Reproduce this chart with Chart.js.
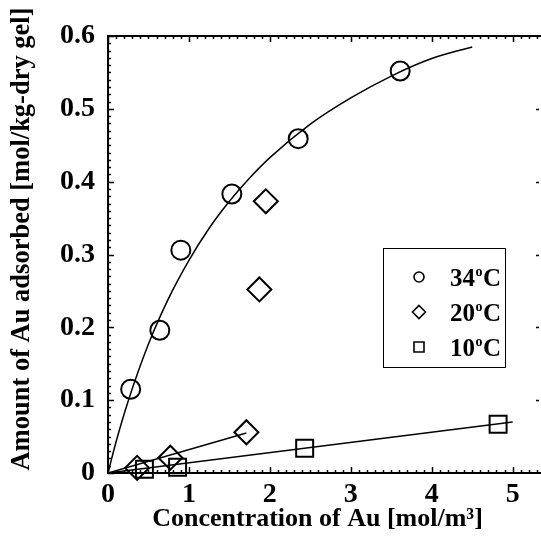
<!DOCTYPE html>
<html><head><meta charset="utf-8">
<script src="https://cdn.jsdelivr.net/npm/chart.js@4"></script>
<style>
html,body{margin:0;padding:0;overflow:hidden;background:#fff;width:541px;height:536px}
#c{display:block;width:541px;height:536px}
</style>
</head><body><canvas id="c" width="541" height="536"></canvas>
<script>
// ---- data ----
const seriesLabels = ['34°C', '20°C', '10°C'];
const x34 = [0.28, 0.64, 0.90, 1.53, 2.35, 3.61];
const y34 = [0.115, 0.196, 0.306, 0.383, 0.459, 0.552];
const x20 = [0.36, 0.77, 1.71, 1.87, 1.95];
const y20 = [0.007, 0.021, 0.056, 0.252, 0.373];
const x10 = [0.45, 0.86, 2.43, 4.82];
const y10 = [0.005, 0.008, 0.034, 0.067];
// fitted curves
const fit34X = [0, 0.1, 0.25, 0.5, 0.75, 1.0, 1.25, 1.5, 1.75, 2.0, 2.5, 3.0, 3.5, 4.0, 4.5];
const fit34Y = [0, 0.043, 0.099, 0.177, 0.240, 0.292, 0.336, 0.373, 0.405, 0.433, 0.479, 0.515, 0.545, 0.569, 0.585];
const fit20X = [0, 1.71];
const fit20Y = [0, 0.055];
const fit10X = [0, 5.0];
const fit10Y = [0, 0.070];
const xTicks = [0, 1, 2, 3, 4, 5];
const yTicks = [0, 0.1, 0.2, 0.3, 0.4, 0.5, 0.6];
const xTitle = 'Concentration of Au [mol/m³]';
const yTitle = 'Amount of Au adsorbed [mol/kg-dry gel]';

const FONT = "'Liberation Serif', 'Times New Roman', serif";
const pts = (xs, ys) => xs.map((x, i) => ({x: x, y: ys[i]}));

const frame = {
  id: 'frame',
  afterDraw(chart) {
    const ctx = chart.ctx, a = chart.chartArea;
    const sx = chart.scales.x, sy = chart.scales.y;
    const W = chart.width;
    ctx.save();
    ctx.strokeStyle = '#000';
    ctx.lineWidth = 2;
    ctx.beginPath();
    ctx.moveTo(W + 2, a.top); ctx.lineTo(a.left, a.top); ctx.lineTo(a.left, a.bottom); ctx.lineTo(W + 2, a.bottom);
    ctx.stroke();
    ctx.lineWidth = 1.5;
    ctx.beginPath();
    for (let i = 0; i <= 55; i++) {
      const v = i / 10;
      const px = Math.round(sx.getPixelForValue(v)) + 0.5;
      if (px > W) break;
      const len = (i % 10 === 0) ? 6 : 3;
      ctx.moveTo(px, a.bottom); ctx.lineTo(px, a.bottom - len);
      ctx.moveTo(px, a.top); ctx.lineTo(px, a.top + len);
    }
    for (let i = 0; i <= 60; i++) {
      const v = i / 100;
      const py = Math.round(sy.getPixelForValue(v)) + 0.5;
      const major = (i % 10 === 0);
      const len = major ? 6 : 3;
      ctx.moveTo(a.left, py); ctx.lineTo(a.left + len, py);
      if (major && i > 0 && i < 60) { ctx.moveTo(W - 5, py); ctx.lineTo(W - 2, py); }
    }
    ctx.stroke();

    ctx.fillStyle = '#000';
    // x axis title
    ctx.font = 'bold 26px ' + FONT;
    ctx.textAlign = 'center';
    ctx.textBaseline = 'middle';
    ctx.fillText(xTitle, 317.5, 519);
    // y axis title
    ctx.save();
    ctx.translate(22, 239);
    ctx.rotate(-Math.PI / 2);
    ctx.font = 'bold 26.5px ' + FONT;
    ctx.fillText(yTitle, 0, 0);
    ctx.restore();

    // legend
    const bx = 383, by = 248, bw = 122, bh = 119;
    ctx.lineWidth = 1;
    ctx.strokeRect(bx + 0.5, by + 0.5, bw, bh);
    const rows = [277, 312, 347];
    const sym = ['circle', 'diamond', 'square'];
    ctx.lineWidth = 1.6;
    rows.forEach((ry, i) => {
      const cx = 419;
      ctx.beginPath();
      if (sym[i] === 'circle') ctx.arc(cx, ry, 5, 0, Math.PI * 2);
      else if (sym[i] === 'diamond') { ctx.moveTo(cx, ry - 6.5); ctx.lineTo(cx + 6.5, ry); ctx.lineTo(cx, ry + 6.5); ctx.lineTo(cx - 6.5, ry); ctx.closePath(); }
      else ctx.rect(cx - 5, ry - 5, 10, 10);
      ctx.stroke();
      const parts = seriesLabels[i].split('°');
      ctx.textBaseline = 'alphabetic';
      ctx.textAlign = 'left';
      let tx = 450; const base = ry + 9;
      ctx.font = 'bold 25px ' + FONT;
      ctx.fillText(parts[0], tx, base);
      tx += ctx.measureText(parts[0]).width;
      ctx.font = 'bold 14px ' + FONT;
      ctx.fillText('o', tx + 0.5, base - 10);
      tx += ctx.measureText('o').width + 1;
      ctx.font = 'bold 25px ' + FONT;
      ctx.fillText(parts[1], tx, base);
    });
    ctx.restore();
  }
};

const markerBase = {showLine: false, borderColor: '#000', backgroundColor: 'rgba(0,0,0,0)', borderWidth: 2, clip: false};
const lineBase = {showLine: true, pointRadius: 0, borderColor: '#000', borderWidth: 1.5, backgroundColor: 'rgba(0,0,0,0)'};

new Chart(document.getElementById('c'), {
  type: 'scatter',
  data: {
    datasets: [
      Object.assign({label: seriesLabels[0], data: pts(x34, y34), pointStyle: 'circle', pointRadius: 9.5}, markerBase),
      Object.assign({label: seriesLabels[1], data: pts(x20, y20), pointStyle: 'rectRot', pointRadius: 12}, markerBase),
      Object.assign({label: seriesLabels[2], data: pts(x10, y10), pointStyle: 'rect', pointRadius: 12}, markerBase),
      Object.assign({label: 'fit34', data: pts(fit34X, fit34Y), cubicInterpolationMode: 'monotone'}, lineBase),
      Object.assign({label: 'fit20', data: pts(fit20X, fit20Y)}, lineBase),
      Object.assign({label: 'fit10', data: pts(fit10X, fit10Y)}, lineBase)
    ]
  },
  options: {
    responsive: false,
    maintainAspectRatio: false,
    animation: false,
    devicePixelRatio: 1,
    layout: {autoPadding: false, padding: {left: 0, top: 36, right: 0, bottom: 0}},
    plugins: {legend: {display: false}, tooltip: {enabled: false}},
    scales: {
      x: {
        type: 'linear', position: 'bottom', min: 0, max: 5.35,
        grid: {display: false, drawTicks: false}, border: {display: false},
        afterBuildTicks: s => { s.ticks = xTicks.map(v => ({value: v})); },
        afterFit: s => { s.height = 63; s.paddingLeft = 0; s.paddingRight = 0; },
        ticks: {color: '#000', padding: 5, maxRotation: 0, font: {family: FONT, size: 28, weight: 'bold'}},
        title: {display: false}
      },
      y: {
        type: 'linear', position: 'left', min: 0, max: 0.6,
        grid: {display: false, drawTicks: false}, border: {display: false},
        afterBuildTicks: s => { s.ticks = yTicks.map(v => ({value: v})); },
        afterFit: s => { s.width = 108; s.paddingTop = 0; s.paddingBottom = 0; },
        ticks: {color: '#000', padding: 13, font: {family: FONT, size: 28, weight: 'bold'}},
        title: {display: false}
      }
    }
  },
  plugins: [frame]
});
</script>
</body></html>
